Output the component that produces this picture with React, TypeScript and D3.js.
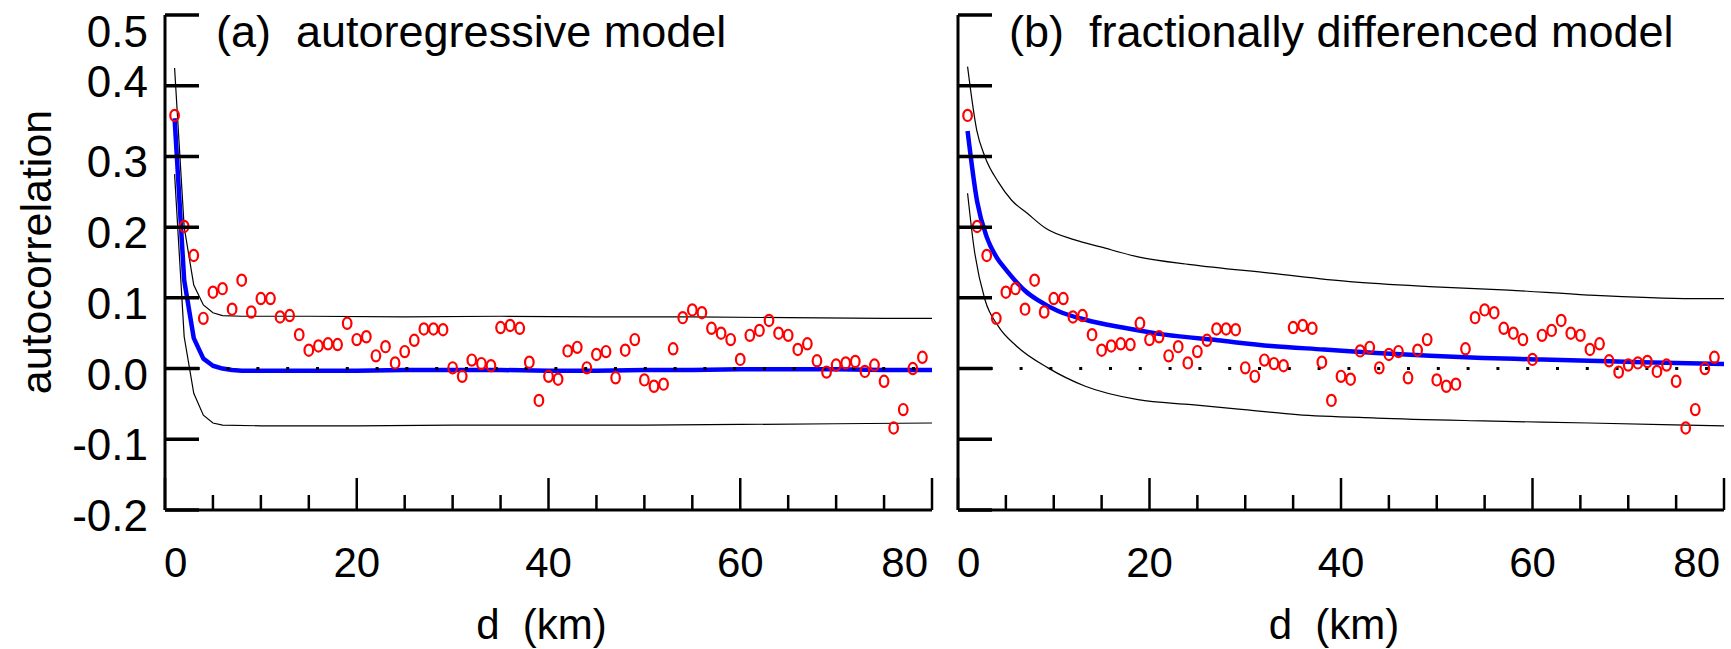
import React from 'react';
import * as d3 from 'd3';

// ---- data ----
const lagKm = [
  1, 2, 3, 4, 5, 6, 7, 8, 9, 10, 11, 12, 13, 14, 15, 16, 17, 18, 19, 20,
  21, 22, 23, 24, 25, 26, 27, 28, 29, 30, 31, 32, 33, 34, 35, 36, 37, 38, 39, 40,
  41, 42, 43, 44, 45, 46, 47, 48, 49, 50, 51, 52, 53, 54, 55, 56, 57, 58, 59, 60,
  61, 62, 63, 64, 65, 66, 67, 68, 69, 70, 71, 72, 73, 74, 75, 76, 77, 78, 79,
];
const acfObserved = [
  0.358, 0.201, 0.160, 0.071, 0.108, 0.113, 0.084, 0.125, 0.080, 0.099,
  0.099, 0.073, 0.075, 0.048, 0.026, 0.032, 0.035, 0.034, 0.064, 0.041,
  0.045, 0.018, 0.031, 0.008, 0.024, 0.040, 0.056, 0.056, 0.055, 0.001,
  -0.011, 0.012, 0.007, 0.004, 0.058, 0.061, 0.057, 0.009, -0.045, -0.011,
  -0.015, 0.025, 0.030, 0.001, 0.020, 0.024, -0.013, 0.026, 0.041, -0.016,
  -0.025, -0.022, 0.028, 0.072, 0.083, 0.079, 0.057, 0.050, 0.041, 0.013,
  0.047, 0.054, 0.068, 0.050, 0.047, 0.027, 0.035, 0.011, -0.005, 0.005,
  0.008, 0.010, -0.004, 0.005, -0.018, -0.084, -0.058, 0.000, 0.016,
];

// (a) autoregressive model: fit and envelope  [d, value]
const arFit: [number, number][] = [
  [1, 0.354], [2, 0.125], [3, 0.043], [4, 0.014], [5, 0.004], [6, 0.0], [7, -0.002], [8, -0.003],
  [10, -0.003], [15, -0.003], [20, -0.003], [25, -0.002], [30, -0.002], [35, -0.002], [40, -0.003],
  [45, -0.003], [50, -0.002], [55, -0.002], [60, -0.001], [65, -0.001], [70, -0.001], [75, -0.002], [80, -0.002],
];
const arUpper: [number, number][] = [
  [1, 0.425], [2, 0.2], [3, 0.118], [4, 0.09], [5, 0.079], [6, 0.075], [8, 0.074], [15, 0.074],
  [25, 0.073], [35, 0.074], [45, 0.073], [55, 0.073], [65, 0.072], [75, 0.071], [80, 0.071],
];
const arLower: [number, number][] = [
  [1, 0.275], [2, 0.045], [3, -0.035], [4, -0.066], [5, -0.077], [6, -0.08], [10, -0.081], [20, -0.081],
  [30, -0.08], [40, -0.08], [50, -0.08], [60, -0.079], [70, -0.078], [80, -0.077],
];

// (b) fractionally differenced model: fit and envelope
const fdFit: [number, number][] = [
  [1, 0.336], [2, 0.236], [3, 0.186], [4, 0.158], [5, 0.14], [6, 0.124], [7, 0.11], [8.3, 0.097],
  [10.5, 0.081], [13.3, 0.069], [17.2, 0.058], [21.6, 0.048], [27.1, 0.04], [32.7, 0.032], [38.2, 0.027],
  [43.7, 0.022], [49.3, 0.018], [54.8, 0.015], [60.3, 0.013], [65.9, 0.011], [71.4, 0.009], [80, 0.0066],
];
const fdUpper: [number, number][] = [
  [1, 0.427], [1.96, 0.337], [2.8, 0.3], [4.2, 0.264], [5.6, 0.238], [7.2, 0.22], [9.2, 0.198],
  [12.2, 0.182], [14.9, 0.172], [18.8, 0.158], [24.3, 0.147], [32.6, 0.135], [40.9, 0.123],
  [49.2, 0.116], [57.5, 0.111], [65.8, 0.104], [76.8, 0.099], [80, 0.099],
];
const fdLower: [number, number][] = [
  [1, 0.248], [1.7, 0.168], [2.8, 0.098], [4.2, 0.06], [6.1, 0.032], [9.4, 0.001], [13.3, -0.025],
  [18.8, -0.044], [24.4, -0.051], [29.9, -0.058], [35.4, -0.065], [43.7, -0.07], [54.8, -0.074],
  [65.9, -0.077], [80, -0.081],
];

const yTickValues = [-0.2, -0.1, 0.0, 0.1, 0.2, 0.3, 0.4, 0.5];
const yTickLabels = ['-0.2', '-0.1', '0.0', '0.1', '0.2', '0.3', '0.4', '0.5'];
const xLabelTicks = [0, 20, 40, 60, 80];
const xMinorTicks = [5, 10, 15, 25, 30, 35, 45, 50, 55, 65, 70, 75];
const panelTitles = ['(a)  autoregressive model', '(b)  fractionally differenced model'];
const xAxisTitle = 'd  (km)';
const yAxisTitle = 'autocorrelation';

// ---- layout / style ----
const W = 1731;
const H = 649;
const FONT = '"Liberation Sans", Arial, Helvetica, sans-serif';
const RED = '#ff0000';
const BLUE = '#0000ff';

const y = d3.scaleLinear().domain([-0.2, 0.5]).range([510, 15]);
const yLabelNudge: Record<string, number> = { '0.5': 11, '0.4': -10 };

type PanelProps = {
  x0: number;
  x1: number;
  fit: [number, number][];
  upper: [number, number][];
  lower: [number, number][];
  curve: d3.CurveFactory;
  title: string;
};

function Panel({ x0, x1, fit, upper, lower, curve, title }: PanelProps) {
  const x = d3.scaleLinear().domain([0, 80]).range([x0, x1]);
  const line = d3
    .line<[number, number]>()
    .x((p) => x(p[0]))
    .y((p) => y(p[1]))
    .curve(curve);
  const yTop = y(0.5);
  const yBot = y(-0.2);
  const tickLen = 34;
  return (
    <g>
      {/* envelope */}
      <path d={line(upper) || ''} fill="none" stroke="#000" strokeWidth={1.2} />
      <path d={line(lower) || ''} fill="none" stroke="#000" strokeWidth={1.2} />
      {/* fitted model */}
      <path d={line(fit) || ''} fill="none" stroke={BLUE} strokeWidth={4.5} strokeLinejoin="round" />
      {/* zero reference */}
      <line
        x1={x(0)}
        x2={x(80)}
        y1={y(0)}
        y2={y(0)}
        stroke="#000"
        strokeWidth={3}
        strokeDasharray="3 26.8"
        strokeDashoffset={-2}
      />
      {/* observed autocorrelations */}
      {lagKm.map((d, i) => (
        <ellipse
          key={d}
          cx={x(d)}
          cy={y(acfObserved[i])}
          rx={4.3}
          ry={5.6}
          fill="none"
          stroke={RED}
          strokeWidth={2.2}
        />
      ))}
      {/* y axis */}
      <line x1={x0} x2={x0} y1={yTop} y2={yBot} stroke="#000" strokeWidth={3} />
      {yTickValues.map((v) => (
        <line key={v} x1={x0} x2={x0 + tickLen} y1={y(v)} y2={y(v)} stroke="#000" strokeWidth={3.5} />
      ))}
      {/* x axis */}
      <line x1={x0} x2={x1} y1={yBot} y2={yBot} stroke="#000" strokeWidth={3} />
      {xMinorTicks.map((d) => (
        <line key={d} x1={x(d)} x2={x(d)} y1={yBot} y2={yBot - 15} stroke="#000" strokeWidth={2.5} />
      ))}
      {xLabelTicks.map((d) => (
        <line key={d} x1={x(d)} x2={x(d)} y1={yBot} y2={yBot - 32} stroke="#000" strokeWidth={2.5} />
      ))}
      {xLabelTicks.map((d, i) => {
        const first = i === 0;
        const last = i === xLabelTicks.length - 1;
        return (
          <text
            key={d}
            x={first ? x(d) - 1 : last ? x(d) - 4 : x(d)}
            y={577}
            fontSize={42}
            fontFamily={FONT}
            textAnchor={first ? 'start' : last ? 'end' : 'middle'}
          >
            {String(d)}
          </text>
        );
      })}
      <text
        x={(x0 + x1) / 2 - 7}
        y={639}
        fontSize={42}
        fontFamily={FONT}
        textAnchor="middle"
        style={{ whiteSpace: 'pre' }}
      >
        {xAxisTitle}
      </text>
      <text x={x0 + 51} y={47} fontSize={45} fontFamily={FONT} style={{ whiteSpace: 'pre' }}>
        {title}
      </text>
    </g>
  );
}

export default function App() {
  return (
    <svg
      width={W}
      height={H}
      viewBox={`0 0 ${W} ${H}`}
      style={{ position: 'absolute', left: 0, top: 0, background: '#fff' }}
    >
      <rect x={0} y={0} width={W} height={H} fill="#fff" />
      {yTickValues.map((v, i) => (
        <text
          key={v}
          x={148}
          y={y(v) + 21 + (yLabelNudge[yTickLabels[i]] || 0)}
          fontSize={44}
          fontFamily={FONT}
          textAnchor="end"
        >
          {yTickLabels[i]}
        </text>
      ))}
      <text
        transform={`translate(51, 252) rotate(-90)`}
        fontSize={43}
        fontFamily={FONT}
        textAnchor="middle"
      >
        {yAxisTitle}
      </text>
      <Panel x0={165} x1={932} fit={arFit} upper={arUpper} lower={arLower} curve={d3.curveLinear} title={panelTitles[0]} />
      <Panel
        x0={958}
        x1={1724}
        fit={fdFit}
        upper={fdUpper}
        lower={fdLower}
        curve={d3.curveMonotoneX}
        title={panelTitles[1]}
      />
    </svg>
  );
}
